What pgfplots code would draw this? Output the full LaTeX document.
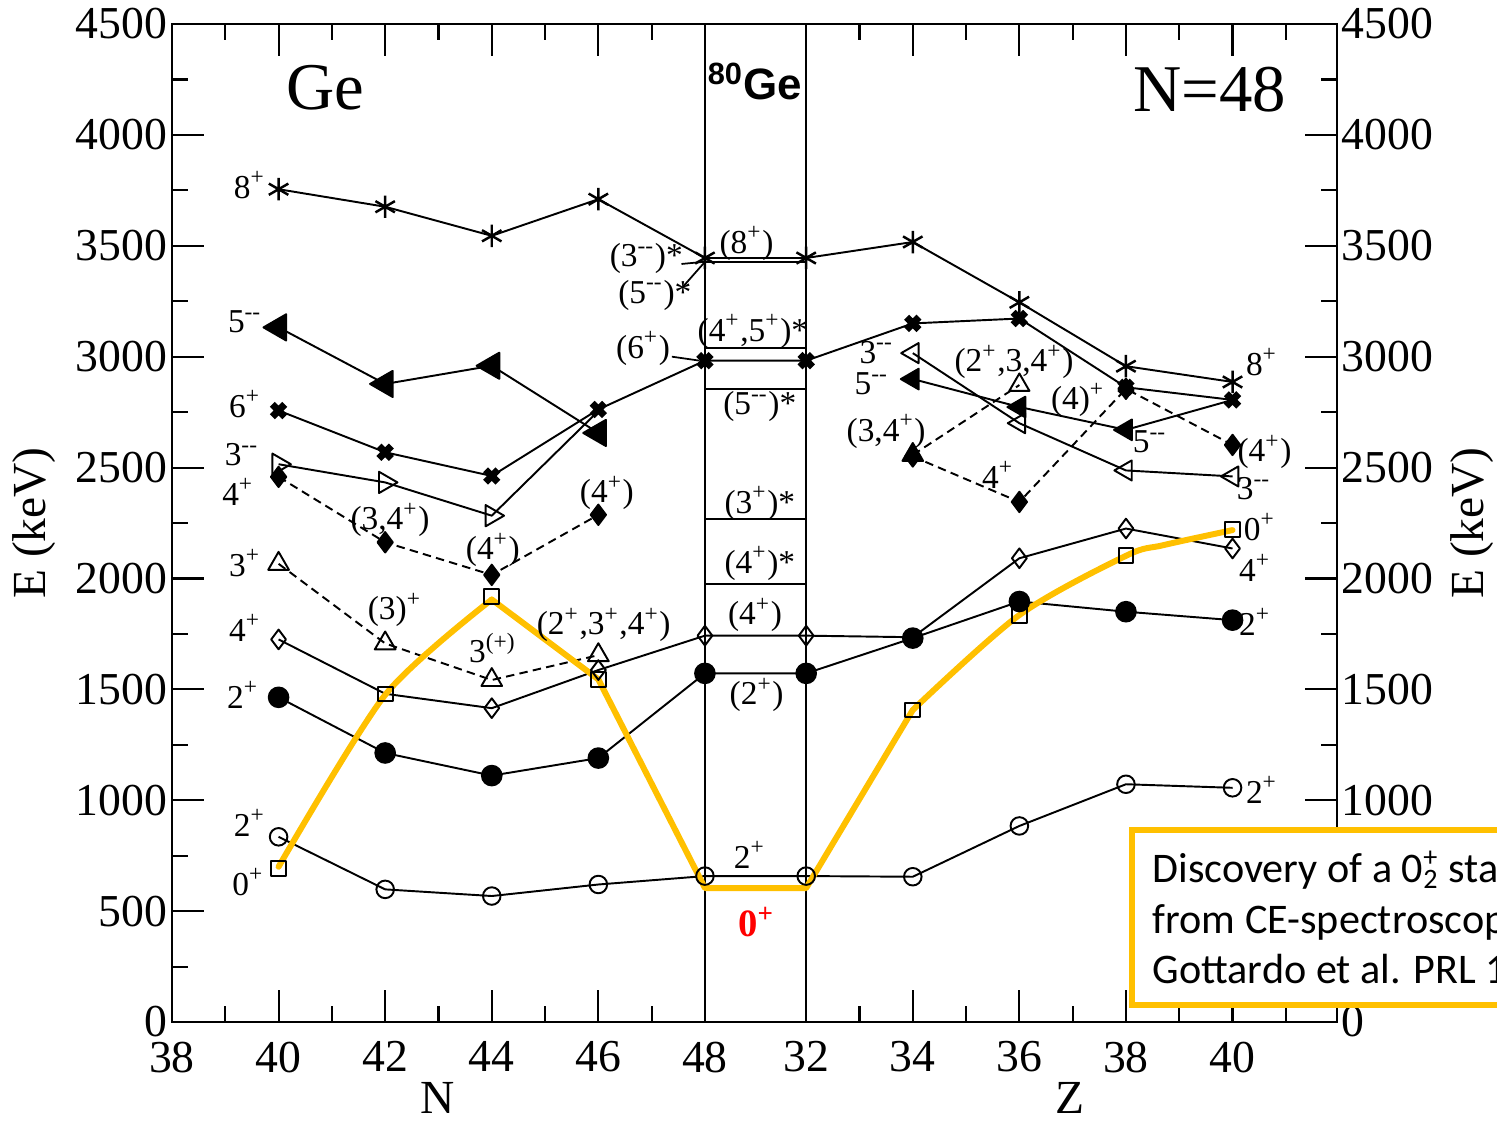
\documentclass[border=0pt]{standalone}
\usepackage{fontspec}
\setmainfont{Liberation Serif}
\newfontfamily\arialfont{Liberation Sans}
\newfontfamily\califont{Carlito}
\usepackage{pgfplots}
\pgfplotsset{compat=1.18}
\definecolor{gold}{RGB}{255,192,0}
\tikzset{
  lab/.style={font=\fontsize{9.5}{10}\selectfont, inner sep=0pt},
  dsh/.style={dash pattern=on 2.4pt off 1.5pt},
}
\begin{document}
\begin{tikzpicture}
\begin{axis}[
  at={(17.2mm,10mm)}, anchor=south west,
  scale only axis, width=116.5mm, height=99.8mm,
  xmin=38, xmax=59.86, ymin=0, ymax=4500,
  xtick={38,40,42,44,46,48,49.9,51.9,53.9,55.9,57.9},
  xticklabels={38,40,42,44,46,48,32,34,36,38,40},
  minor xtick={39,41,43,45,47,50.9,52.9,54.9,56.9,58.9},
  ytick={0,500,...,4500},
  minor y tick num=1,
  xtick pos=both, ytick pos=both,
  major tick length=3.2mm, minor tick length=1.6mm,
  tick style={black, line width=0.6pt},
  axis line style={line width=0.7pt},
  tick label style={font=\fontsize{13}{13}\selectfont, inner sep=0.4mm},
  xticklabel style={yshift=-1.5mm},
  /pgf/number format/assume math mode=true,
  /pgf/number format/1000 sep={},
  scaled y ticks=false,
  ylabel={E (keV)},
  ylabel style={font=\fontsize{13.5}{14}\selectfont, at={(axis description cs:-0.118,0.5)}, anchor=center},
  clip=false,
  every axis plot/.append style={line width=0.55pt, black, line join=round},
]
% 80Ge box
\draw[line width=0.55pt] (axis cs:48,0) -- (axis cs:48,4500);
\draw[line width=0.55pt] (axis cs:49.9,0) -- (axis cs:49.9,4500);
\addplot[no marks] coordinates {(48,3428) (49.9,3428)};
\addplot[no marks] coordinates {(48,3038) (49.9,3038)};
\addplot[no marks] coordinates {(48,2854) (49.9,2854)};
\addplot[no marks] coordinates {(48,2268) (49.9,2268)};
\addplot[no marks] coordinates {(48,1975) (49.9,1975)};
% pointer lines
\draw[line width=0.5pt] (axis cs:47.56,3418) -- (axis cs:48,3428);
\draw[line width=0.5pt] (axis cs:47.59,3316) -- (axis cs:48.02,3433);
\draw[line width=0.5pt] (axis cs:47.38,3000) -- (axis cs:47.9,2982);

% 2+ (first) open circles
\addplot[mark=o, mark size=2.5pt] coordinates {(40,835)(42,598)(44,568)(46,620)(48,658)(49.9,658)(51.9,655)(53.9,884)(55.9,1072)(57.9,1056)};
% 0+ open squares
\addplot[only marks, mark=square, mark size=2.1pt] coordinates {(40,691)(42,1479)(44,1919)(46,1545)(51.9,1407)(53.9,1832)(55.9,2102)(57.9,2222)};
% 4+ open diamonds
\addplot[no marks] coordinates {(40,1725)(42,1480)(44,1415)(46,1587)(48,1742)(49.9,1742)(51.9,1735)(53.9,2091)(55.9,2225)(57.9,2135)};
\addplot[only marks, mark=diamond, mark size=2.8pt] coordinates {(40,1725)(44,1415)(46,1587)(48,1742)(49.9,1742)(53.9,2091)(55.9,2225)(57.9,2135)};
% 2+ filled circles
\addplot[mark=*, mark size=2.8pt] coordinates {(40,1464)(42,1213)(44,1111)(46,1190)(48,1572)(49.9,1572)(51.9,1731)(53.9,1896)(55.9,1850)(57.9,1812)};
% 3+ open up triangles, dashed
\addplot[dsh, mark=triangle, mark size=3.4pt, mark options={solid}] coordinates {(40,2066)(42,1707)(44,1542)(46,1654)};
\addplot[dsh, no marks] coordinates {(51.9,2557)(53.9,2872)};
\addplot[only marks, mark=triangle, mark size=3.3pt] coordinates {(53.9,2872)};
% 4+ filled diamonds, dashed
\addplot[dsh, mark=diamond*, mark size=2.9pt, mark options={solid}] coordinates {(40,2458)(42,2163)(44,2016)(46,2287)};
\addplot[dsh, mark=diamond*, mark size=2.9pt, mark options={solid}] coordinates {(51.9,2550)(53.9,2345)(55.9,2855)(57.9,2602)};
\addplot[only marks, mark=triangle*, mark size=3.4pt] coordinates {(51.9,2557)};
% 3- open triangles
\addplot[no marks] coordinates {(40,2515)(42,2433)(44,2283)(46,2755)};
\addplot[only marks, mark=triangle, mark size=3.5pt, mark options={rotate=-90}] coordinates {(40,2515)(42,2433)(44,2283)};
\addplot[mark=triangle, mark size=3.3pt, mark options={rotate=90}] coordinates {(51.9,3016)(53.9,2700)(55.9,2487)(57.9,2460)};
% 6+ crosses
\addplot[mark=x, mark size=2.5pt, mark options={line width=2pt}] coordinates {(40,2757)(42,2569)(44,2462)(46,2762)(48,2982)(49.9,2982)(51.9,3150)(53.9,3172)(55.9,2862)(57.9,2805)};
% 5- filled triangles
\addplot[mark=triangle*, mark size=4.3pt, mark options={rotate=90}] coordinates {(40,3132)(42,2877)(44,2959)(46,2656)};
\addplot[no marks] coordinates {(51.9,2899)(53.9,2773)(55.9,2670)(57.9,2805)};
\addplot[only marks, mark=triangle*, mark size=3.4pt, mark options={rotate=90}] coordinates {(51.9,2899)(53.9,2773)(55.9,2670)};
% 8+ asterisks
\addplot[mark=asterisk, mark size=3.2pt, mark options={line width=0.7pt}] coordinates {(40,3755)(42,3676)(44,3545)(46,3710)(48,3445)(49.9,3445)(51.9,3517)(53.9,3245)(55.9,2957)(57.9,2886)};

% yellow 0+ line
\addplot[gold, line width=1.7pt, smooth, tension=0.45, line cap=round] coordinates {(40,700)(42,1475)(44,1905)};
\addplot[gold, line width=1.7pt, line cap=round, line join=round] coordinates {(44,1905)(46,1545)(48,604)(49.9,604)(51.9,1407)};
\addplot[gold, line width=1.7pt, smooth, tension=0.5, line cap=round] coordinates {(51.9,1407)(53.9,1835)(55.9,2102)(56.6,2150)(57.9,2218)};

% titles
\node[font=\fontsize{19}{20}\selectfont] at (axis cs:40.87,4211) {Ge};
\node[font=\fontsize{19}{20}\selectfont] at (axis cs:57.47,4202) {N=48};
\node[inner sep=0pt] at (axis cs:48.94,4240) {\arialfont\bfseries\fontsize{12.5}{13}\selectfont\textsuperscript{80}Ge};

% left labels
\node[lab] at (axis cs:39.46,3774) {8\textsuperscript{+}};
\node[lab] at (axis cs:39.37,3156) {5\textsuperscript{-{}-}};
\node[lab] at (axis cs:39.37,2787) {6\textsuperscript{+}};
\node[lab] at (axis cs:39.31,2557) {3\textsuperscript{-{}-}};
\node[lab] at (axis cs:39.24,2390) {4\textsuperscript{+}};
\node[lab] at (axis cs:42.09,2263) {(3,4\textsuperscript{+})};
\node[lab] at (axis cs:44.02,2128) {(4\textsuperscript{+})};
\node[lab] at (axis cs:46.16,2385) {(4\textsuperscript{+})};
\node[lab] at (axis cs:39.37,2070) {3\textsuperscript{+}};
\node[lab] at (axis cs:42.18,1858) {(3)\textsuperscript{+}};
\node[lab] at (axis cs:44.02,1686) {3\textsuperscript{(+)}};
\node[lab] at (axis cs:46.1,1790) {(2\textsuperscript{+},3\textsuperscript{+},4\textsuperscript{+})};
\node[lab] at (axis cs:39.37,1777) {4\textsuperscript{+}};
\node[lab] at (axis cs:39.33,1474) {2\textsuperscript{+}};
\node[lab] at (axis cs:39.46,897) {2\textsuperscript{+}};
\node[lab] at (axis cs:39.43,631) {0\textsuperscript{+}};
% pointer labels
\node[lab] at (axis cs:46.9,3443) {(3\textsuperscript{-{}-})*};
\node[lab] at (axis cs:47.06,3278) {(5\textsuperscript{-{}-})*};
\node[lab] at (axis cs:46.84,3038) {(6\textsuperscript{+})};
% box labels
\node[lab] at (axis cs:48.78,3511) {(8\textsuperscript{+})};
\node[lab] at (axis cs:48.9,3113) {(4\textsuperscript{+},5\textsuperscript{+})*};
\node[lab] at (axis cs:49.03,2774) {(5\textsuperscript{-{}-})*};
\node[lab] at (axis cs:49.03,2339) {(3\textsuperscript{+})*};
\node[lab] at (axis cs:49.03,2068) {(4\textsuperscript{+})*};
\node[lab] at (axis cs:48.94,1835) {(4\textsuperscript{+})};
\node[lab] at (axis cs:48.97,1474) {(2\textsuperscript{+})};
\node[lab] at (axis cs:48.84,753) {2\textsuperscript{+}};
\node[inner sep=0pt, text=red, font=\bfseries\fontsize{11}{12}\selectfont] at (axis cs:48.97,452) {0\textsuperscript{+}};
% right inner labels
\node[lab] at (axis cs:51.22,3020) {3\textsuperscript{-{}-}};
\node[lab] at (axis cs:51.13,2878) {5\textsuperscript{-{}-}};
\node[lab] at (axis cs:51.4,2662) {(3,4\textsuperscript{+})};
\node[lab] at (axis cs:53.8,2976) {(2\textsuperscript{+},3,4\textsuperscript{+})};
\node[lab] at (axis cs:53.5,2466) {4\textsuperscript{+}};
\node[lab] at (axis cs:55.0,2805) {(4)\textsuperscript{+}};
\node[lab] at (axis cs:56.35,2615) {5\textsuperscript{-{}-}};
% right end labels
\node[lab] at (axis cs:58.45,2976) {8\textsuperscript{+}};
\node[lab] at (axis cs:58.5,2570) {(4\textsuperscript{+})};
\node[lab] at (axis cs:58.3,2405) {3\textsuperscript{-{}-}};
\node[lab] at (axis cs:58.41,2232) {0\textsuperscript{+}};
\node[lab] at (axis cs:58.32,2047) {4\textsuperscript{+}};
\node[lab] at (axis cs:58.32,1804) {2\textsuperscript{+}};
\node[lab] at (axis cs:58.45,1046) {2\textsuperscript{+}};
% x labels
\node[font=\fontsize{13.5}{14}\selectfont, inner sep=0pt, anchor=base] at (axis description cs:0.2283,-0.092) {N};
\node[font=\fontsize{13.5}{14}\selectfont, inner sep=0pt, anchor=base] at (axis description cs:0.7708,-0.092) {Z};
\end{axis}

\begin{axis}[
  at={(17.2mm,10mm)}, anchor=south west,
  scale only axis, width=116.5mm, height=99.8mm,
  xmin=38, xmax=59.86, ymin=0, ymax=4500,
  hide x axis,
  axis y line*=right,
  y axis line style={draw=none},
  ytick={0,1000,1500,...,4500},
  ytick style={draw=none},
  yticklabel style={font=\fontsize{13}{13}\selectfont, inner sep=0.4mm},
  /pgf/number format/assume math mode=true,
  /pgf/number format/1000 sep={},
  scaled y ticks=false,
  ylabel={E (keV)},
  ylabel style={font=\fontsize{13.5}{14}\selectfont, at={(axis description cs:1.116,0.5)}, anchor=center},
]
\addplot[draw=none, forget plot] coordinates {(40,0)(41,1)};
\end{axis}

% annotation box
\draw[gold, line width=1.8pt, fill=white] (113.2mm,11.7mm) rectangle (165mm,29.2mm);
\node[anchor=base west, inner sep=0pt, font=\califont\fontsize{12}{14}\selectfont] at (115.2mm,24.0mm) {Discovery of a 0\rlap{\textsuperscript{+}}\textsubscript{2} state in \textsuperscript{80}Ge};
\node[anchor=base west, inner sep=0pt, font=\califont\fontsize{12}{14}\selectfont] at (115.2mm,18.9mm) {from CE-spectroscopy};
\node[anchor=base west, inner sep=0pt, font=\califont\fontsize{12}{14}\selectfont] at (115.2mm,13.9mm) {Gottardo et al. PRL 116 (2016)};

\pgfresetboundingbox
\path[use as bounding box] (0,0) rectangle (149.7mm,112.2mm);
\end{tikzpicture}
\end{document}
